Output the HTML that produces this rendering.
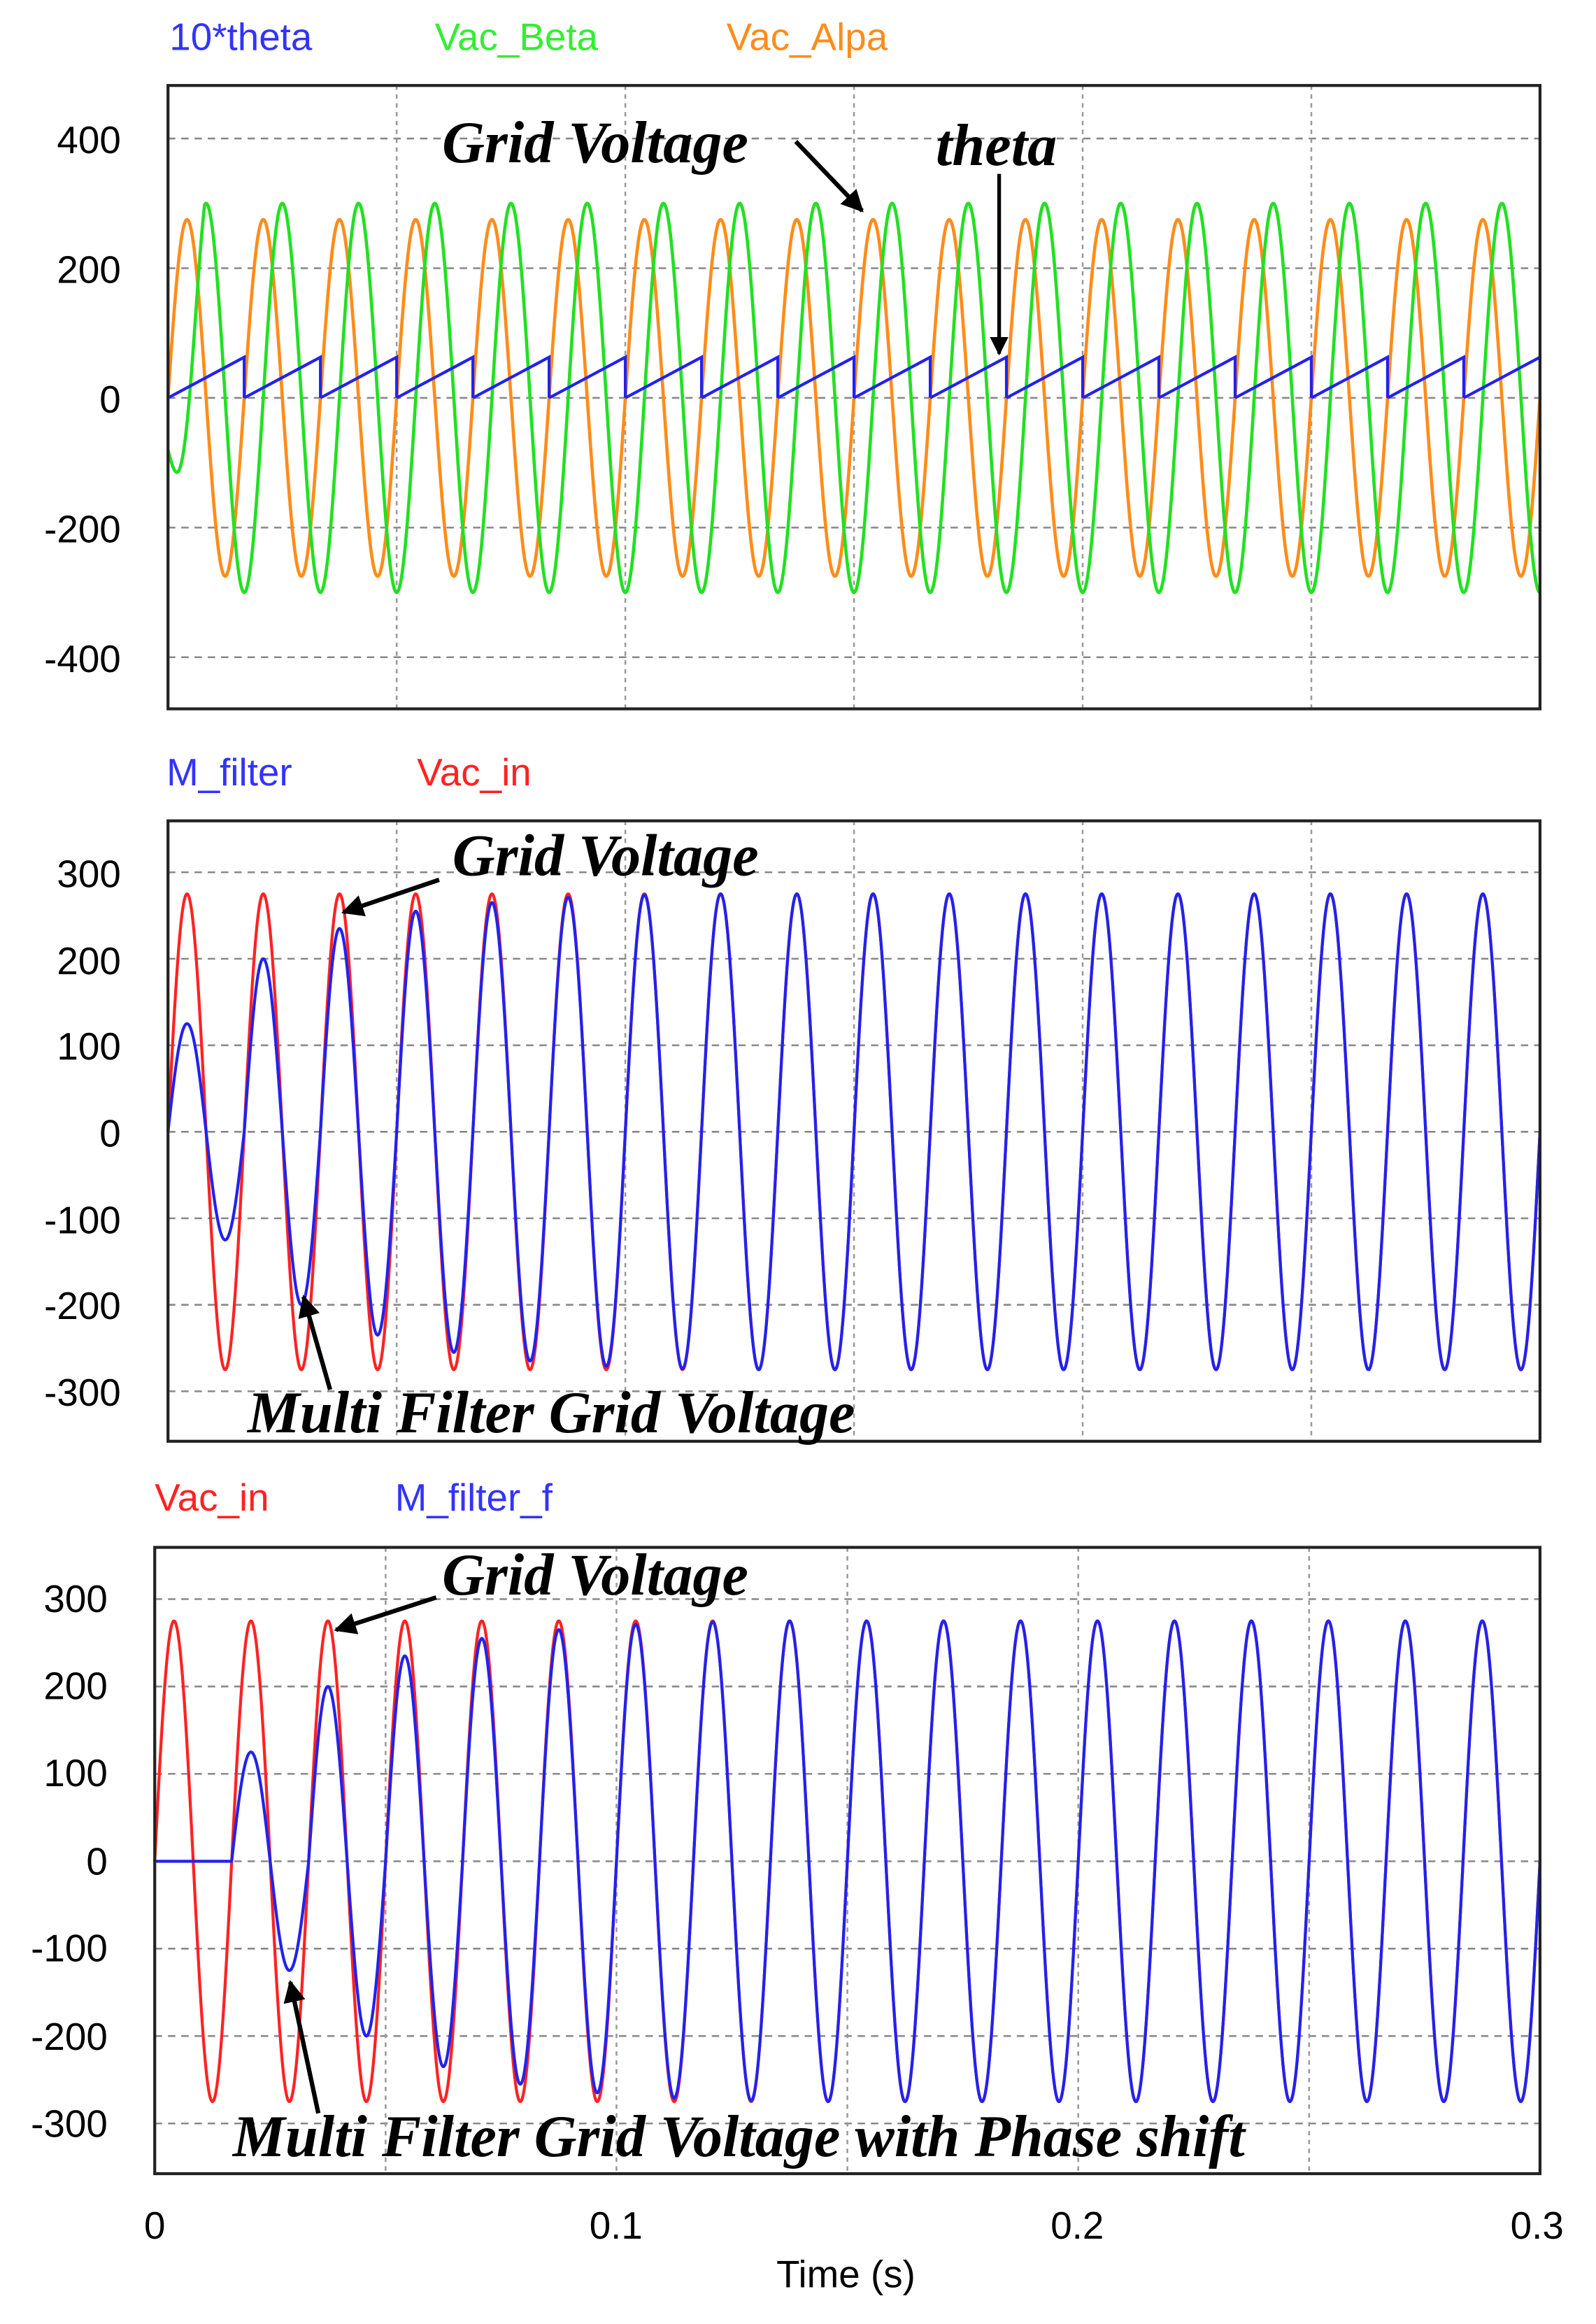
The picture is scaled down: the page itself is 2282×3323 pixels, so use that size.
<!DOCTYPE html>
<html><head><meta charset="utf-8"><style>
html,body{margin:0;padding:0;background:#fff;}
svg{display:block;}
text{font-family:"Liberation Sans",sans-serif;}
.ann{font-family:"Liberation Serif",serif;font-weight:bold;font-style:italic;font-size:40px;fill:#000;}
.tk{font-size:26px;fill:#000;text-anchor:end;}
.xt{font-size:26px;fill:#000;text-anchor:middle;}
.lg{font-size:26px;}
</style></head><body>
<svg id="s" width="2282" height="3323" viewBox="0 0 1083 1577" preserveAspectRatio="none" xmlns="http://www.w3.org/2000/svg">
<defs><marker id="ah" viewBox="0 0 10 10" refX="9" refY="5" markerWidth="5" markerHeight="5" orient="auto"><path d="M0,0 L10,5 L0,10 z" fill="#000"/></marker></defs>
<g id="g"></g>
<text class="lg" x="115" y="34" fill="#3333ff">10*theta</text>
<text class="lg" x="295" y="34" fill="#33ee33">Vac_Beta</text>
<text class="lg" x="493" y="34" fill="#ff8c1a">Vac_Alpa</text>
<text class="lg" x="113" y="533" fill="#3333ff">M_filter</text>
<text class="lg" x="283" y="533" fill="#ff2222">Vac_in</text>
<text class="lg" x="105" y="1025" fill="#ff2222">Vac_in</text>
<text class="lg" x="268" y="1025" fill="#3333ff">M_filter_f</text>
<text class="tk" x="82" y="104">400</text><text class="tk" x="82" y="192">200</text><text class="tk" x="82" y="280">0</text><text class="tk" x="82" y="368">-200</text><text class="tk" x="82" y="456">-400</text>
<text class="tk" x="82" y="602">300</text><text class="tk" x="82" y="661">200</text><text class="tk" x="82" y="719">100</text><text class="tk" x="82" y="778">0</text><text class="tk" x="82" y="837">-100</text><text class="tk" x="82" y="895">-200</text><text class="tk" x="82" y="954">-300</text>
<text class="tk" x="73" y="1094">300</text><text class="tk" x="73" y="1153">200</text><text class="tk" x="73" y="1212">100</text><text class="tk" x="73" y="1272">0</text><text class="tk" x="73" y="1331">-100</text><text class="tk" x="73" y="1391">-200</text><text class="tk" x="73" y="1450">-300</text>
<text class="xt" x="105" y="1519">0</text><text class="xt" x="418" y="1519">0.1</text><text class="xt" x="731" y="1519">0.2</text><text class="xt" x="1043" y="1519">0.3</text>
<text class="xt" x="574" y="1552">Time (s)</text>
<text class="ann" x="300" y="110">Grid Voltage</text>
<line x1="540" y1="96" x2="585" y2="143" stroke="#000" stroke-width="3" marker-end="url(#ah)"/>
<text class="ann" x="635" y="112">theta</text>
<line x1="678" y1="118" x2="678" y2="240" stroke="#000" stroke-width="2.5" marker-end="url(#ah)"/>
<text class="ann" x="307" y="594">Grid Voltage</text>
<line x1="298" y1="597" x2="233" y2="619" stroke="#000" stroke-width="3" marker-end="url(#ah)"/>
<text class="ann" x="168" y="972">Multi Filter Grid Voltage</text>
<line x1="224" y1="943" x2="206" y2="880" stroke="#000" stroke-width="3" marker-end="url(#ah)"/>
<text class="ann" x="300" y="1082">Grid Voltage</text>
<line x1="296" y1="1084" x2="228" y2="1106" stroke="#000" stroke-width="3" marker-end="url(#ah)"/>
<text class="ann" x="158" y="1463">Multi Filter Grid Voltage with Phase shift</text>
<line x1="216" y1="1434" x2="197" y2="1345" stroke="#000" stroke-width="3" marker-end="url(#ah)"/>
</svg>
<script>
var g=document.getElementById('g'),NS='http://www.w3.org/2000/svg';
function el(t,a){var e=document.createElementNS(NS,t);for(var k in a)e.setAttribute(k,a[k]);g.appendChild(e);return e;}
var w=2*Math.PI*60;
function plot(L,R,T,B,y0,pp100,ticks){
  for(var i=0;i<ticks.length;i++){var y=y0-ticks[i]/100*pp100;el('line',{x1:L,x2:R,y1:y,y2:y,stroke:'#888','stroke-width':1.2,'stroke-dasharray':'5,4'});}
  for(var k=1;k<6;k++){var x=L+(R-L)*k/6;el('line',{x1:x,x2:x,y1:T,y2:B,stroke:'#999','stroke-width':1.2,'stroke-dasharray':'3,3'});}
}
function curve(L,R,y0,pp100,f,col,sw){
  var d='';for(var i=0;i<=3000;i++){var t=0.3*i/3000;var v=f(t);var x=L+(R-L)*t/0.3,y=y0-v/100*pp100;d+=(d?'L':'M')+x.toFixed(2)+','+y.toFixed(2);}
  el('path',{d:d,fill:'none',stroke:col,'stroke-width':sw});
}
function box(L,R,T,B){el('rect',{x:L,y:T,width:R-L,height:B-T,fill:'none',stroke:'#222','stroke-width':2});}
var amps=[125,200,235,255,265,271,274];
function amp(n){return n<amps.length?amps[n]:275;}
plot(114,1045,58,481,270,44,[400,200,0,-200,-400]);
curve(114,1045,270,44,function(t){return 275*Math.sin(w*t);},'#ff8c1a',2.2);
curve(114,1045,270,44,function(t){var v=-300*Math.cos(w*t);if(t<0.008)v=v*(t/0.008)+(-80)*(1-t/0.008);return v;},'#22e022',2.2);
(function(){var d='';var P=1/60;for(var n=0;n<18;n++){var t0=n*P,t1=(n+1)*P;var x0=114+931*t0/0.3,x1=114+931*t1/0.3;d+='M'+x0+',270L'+x1+','+(270-62.8*0.44)+'L'+x1+',270';}el('path',{d:d,fill:'none',stroke:'#2222ee','stroke-width':2});})();
box(114,1045,58,481);
plot(114,1045,557,978,768,58.7,[300,200,100,0,-100,-200,-300]);
curve(114,1045,768,58.7,function(t){return 275*Math.sin(w*t);},'#ff2222',2);
curve(114,1045,768,58.7,function(t){var n=Math.floor(t*60);return amp(n)*Math.sin(w*t);},'#2222ee',2);
box(114,1045,557,978);
plot(105,1045,1050,1475,1263,59.3,[300,200,100,0,-100,-200,-300]);
curve(105,1045,1263,59.3,function(t){return 275*Math.sin(w*t);},'#ff2222',2);
curve(105,1045,1263,59.3,function(t){if(t<1/60)return 0;var n=Math.floor(t*60)-1;return amp(n)*Math.sin(w*t);},'#2222ee',2);
box(105,1045,1050,1475);
</script>
</body></html>
